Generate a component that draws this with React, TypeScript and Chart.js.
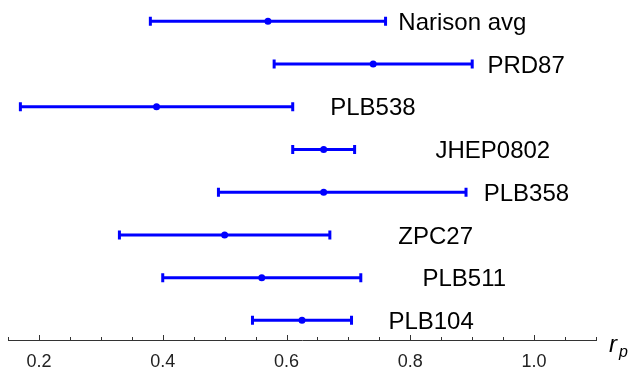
import React, { useEffect, useRef } from "react";
import { Chart, registerables } from "chart.js";

Chart.register(...registerables);

const categories = ["Narison avg", "PRD87", "PLB538", "JHEP0802", "PLB358", "ZPC27", "PLB511", "PLB104"];
const centers = [0.57, 0.74, 0.39, 0.66, 0.66, 0.5, 0.56, 0.625];
const lows = [0.38, 0.58, 0.17, 0.61, 0.49, 0.33, 0.4, 0.545];
const highs = [0.76, 0.9, 0.61, 0.71, 0.89, 0.67, 0.72, 0.705];
const labelAnchors = [0.783, 0.927, 0.673, 0.843, 0.921, 0.783, 0.822, 0.767];

const X_MIN = 0.15;
const X_MAX = 1.1;
const BLUE = "#0000ff";
const FONT = "'Liberation Sans', Arial, Helvetica, sans-serif";

const rowValue = (i: number) => categories.length - i;

const errorBarPlugin = {
  id: "errorBars",
  beforeDatasetsDraw(chart: any) {
    const { ctx } = chart;
    const xs = chart.scales.x;
    const ys = chart.scales.y;
    ctx.save();
    ctx.strokeStyle = BLUE;
    ctx.lineCap = "butt";
    categories.forEach((_, i) => {
      const y = ys.getPixelForValue(rowValue(i));
      const x0 = xs.getPixelForValue(lows[i]);
      const x1 = xs.getPixelForValue(highs[i]);
      ctx.lineWidth = 3;
      ctx.beginPath();
      ctx.moveTo(x0, y);
      ctx.lineTo(x1, y);
      ctx.stroke();
      ctx.beginPath();
      ctx.moveTo(x0, y - 4.5);
      ctx.lineTo(x0, y + 4.5);
      ctx.moveTo(x1, y - 4.5);
      ctx.lineTo(x1, y + 4.5);
      ctx.stroke();
    });
    ctx.restore();
  },
  afterDraw(chart: any) {
    const { ctx } = chart;
    const xs = chart.scales.x;
    const ys = chart.scales.y;
    ctx.save();
    ctx.fillStyle = "#000";
    ctx.font = `24px ${FONT}`;
    ctx.textAlign = "left";
    ctx.textBaseline = "alphabetic";
    categories.forEach((name, i) => {
      const y = ys.getPixelForValue(rowValue(i));
      const x = xs.getPixelForValue(labelAnchors[i]);
      ctx.fillText(name, x - 1.5, y + 8.6);
    });
    const axisY = xs.top;
    ctx.strokeStyle = "#333";
    ctx.lineWidth = 1;
    ctx.beginPath();
    xs.ticks.forEach((t: any) => {
      const v = t.value;
      const px = Math.round(xs.getPixelForValue(v)) + 0.5;
      const major = Math.abs(v * 5 - Math.round(v * 5)) < 1e-6;
      const len = major ? 5 : 3;
      ctx.moveTo(px, axisY);
      ctx.lineTo(px, axisY - len);
    });
    ctx.stroke();
    ctx.fillStyle = "#000";
    ctx.font = `italic 24px ${FONT}`;
    ctx.fillText("r", 609, 352);
    ctx.font = `italic 16px ${FONT}`;
    ctx.fillText("p", 619, 357);
    ctx.restore();
  },
};

export default function App() {
  const ref = useRef<HTMLCanvasElement | null>(null);

  useEffect(() => {
    if (!ref.current) return;
    const chart = new Chart(ref.current, {
      type: "scatter",
      data: {
        datasets: [
          {
            data: categories.map((_, i) => ({ x: centers[i], y: rowValue(i) })),
            backgroundColor: BLUE,
            borderColor: BLUE,
            pointRadius: 3.5,
            pointBorderWidth: 0,
          },
        ],
      },
      options: {
        animation: false,
        responsive: false,
        devicePixelRatio: 1,
        layout: { autoPadding: false, padding: { left: 8, right: 32, top: 0, bottom: 0 } },
        plugins: { legend: { display: false }, tooltip: { enabled: false } },
        scales: {
          x: {
            type: "linear",
            min: X_MIN,
            max: X_MAX,
            afterFit: (scale: any) => {
              scale.height = 28;
              scale.paddingLeft = 0;
              scale.paddingRight = 0;
            },
            border: { display: true, color: "#333", width: 1 },
            grid: { display: true, drawOnChartArea: false, drawTicks: false },
            ticks: {
              stepSize: 0.05,
              autoSkip: false,
              maxRotation: 0,
              padding: 11,
              color: "#222",
              font: { family: FONT, size: 18 },
              callback: (value: any) => {
                const v = Number(value);
                return Math.abs(v * 5 - Math.round(v * 5)) < 1e-6 ? v.toFixed(1) : "";
              },
            },
          },
          y: {
            type: "linear",
            display: false,
            min: 0.54,
            max: 8.5,
          },
        },
      },
      plugins: [errorBarPlugin],
    });
    return () => chart.destroy();
  }, []);

  return (
    <div style={{ position: "absolute", left: 0, top: 0, width: 628, height: 368, background: "#fff" }}>
      <canvas ref={ref} width={628} height={368} />
    </div>
  );
}
